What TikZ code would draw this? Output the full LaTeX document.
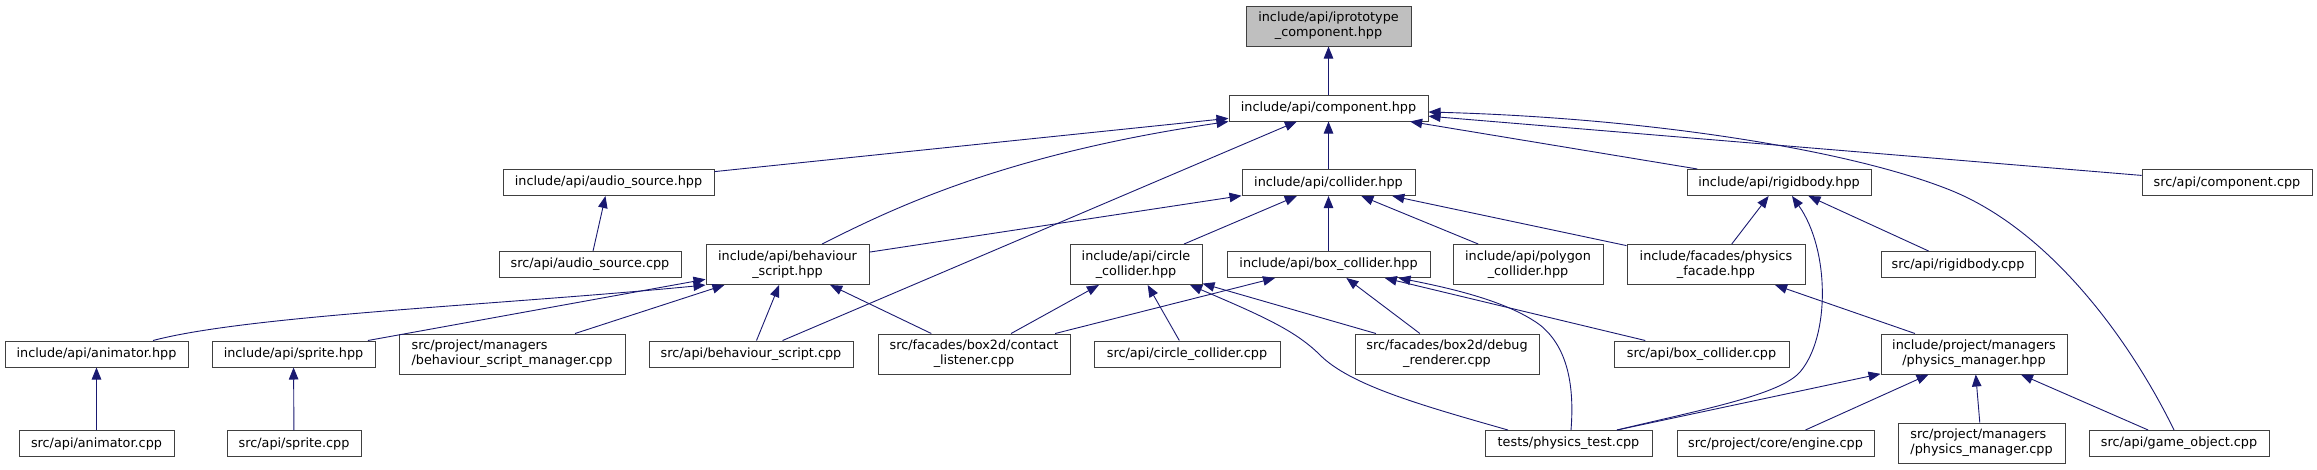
\documentclass[tikz,border=0pt]{standalone}
\usepackage{fontspec}
\setmainfont{DejaVu Sans}
\usetikzlibrary{arrows.meta}
\definecolor{edgec}{HTML}{191970}
\definecolor{boxc}{HTML}{404040}
\definecolor{rootc}{HTML}{BFBFBF}
\begin{document}
\begin{tikzpicture}[x=1pt,y=-1pt,
  font=\fontsize{12.8}{15}\selectfont,
  box/.style={draw=boxc, line width=1pt, fill=white, inner sep=0pt,
    minimum height=26pt, align=center, text=black},
  dbl/.style={minimum height=40pt},
  rootbox/.style={box, dbl, fill=rootc},
  dep/.style={draw=edgec, line width=0.9pt, -{Triangle[length=12pt,width=9.5pt]}}]
\useasboundingbox (0,0) rectangle (2317,469);

% row 0
\node[rootbox, minimum width=165pt] (root) at (1328.5,26) {include/api/iprototype\\\_component.hpp};
% row 1
\node[box, minimum width=199pt] (comp) at (1328.5,108) {include/api/component.hpp};
% row 2
\node[box, minimum width=211pt] (audh) at (608.5,182.5) {include/api/audio\_source.hpp};
\node[box, minimum width=173pt] (coll) at (1328.5,182.5) {include/api/collider.hpp};
\node[box, minimum width=184pt] (righ) at (1779,182.5) {include/api/rigidbody.hpp};
\node[box, minimum width=170pt] (compcpp) at (2227,182.5) {src/api/component.cpp};
% row 3
\node[box, minimum width=182pt] (audcpp) at (590,264.5) {src/api/audio\_source.cpp};
\node[box, dbl, minimum width=163pt] (behh) at (787.5,264.5) {include/api/behaviour\\\_script.hpp};
\node[box, dbl, minimum width=132pt] (circh) at (1136,264.5) {include/api/circle\\\_collider.hpp};
\node[box, minimum width=203pt] (boxh) at (1328.5,264.5) {include/api/box\_collider.hpp};
\node[box, dbl, minimum width=150pt] (polyh) at (1528,264.5) {include/api/polygon\\\_collider.hpp};
\node[box, dbl, minimum width=178pt] (fach) at (1716,264.5) {include/facades/physics\\\_facade.hpp};
\node[box, minimum width=154pt] (rigcpp) at (1958,264.5) {src/api/rigidbody.cpp};
% row 4
\node[box, minimum width=183pt] (animh) at (96.5,354) {include/api/animator.hpp};
\node[box, minimum width=163pt] (sprh) at (293.5,354) {include/api/sprite.hpp};
\node[box, dbl, minimum width=226pt, align=left] (bsmcpp) at (512,354) {src/project/managers\\/behaviour\_script\_manager.cpp};
\node[box, minimum width=204pt] (behcpp) at (751,354) {src/api/behaviour\_script.cpp};
\node[box, dbl, minimum width=192pt] (contcpp) at (974,354) {src/facades/box2d/contact\\\_listener.cpp};
\node[box, minimum width=186pt] (circcpp) at (1187,354) {src/api/circle\_collider.cpp};
\node[box, dbl, minimum width=184pt] (dbgcpp) at (1447,354) {src/facades/box2d/debug\\\_renderer.cpp};
\node[box, minimum width=175pt] (boxcpp) at (1701.5,354) {src/api/box\_collider.cpp};
\node[box, dbl, minimum width=186pt] (pmh) at (1974,354) {include/project/managers\\/physics\_manager.hpp};
% row 5
\node[box, minimum width=155pt] (animcpp) at (96.5,443.5) {src/api/animator.cpp};
\node[box, minimum width=134pt] (sprcpp) at (294,443.5) {src/api/sprite.cpp};
\node[box, minimum width=167pt] (testcpp) at (1568.5,443.5) {tests/physics\_test.cpp};
\node[box, minimum width=197pt] (engcpp) at (1775.5,443.5) {src/project/core/engine.cpp};
\node[box, dbl, minimum width=167pt, align=left] (pmcpp) at (1981.5,443) {src/project/managers\\/physics\_manager.cpp};
\node[box, minimum width=180pt] (gocpp) at (2179,443.5) {src/api/game\_object.cpp};

% edges to root
\draw[dep] (comp) -- (root);
% edges to component
\draw[dep] (audh) -- (comp);
\draw[dep] ([xshift=34.5pt]behh.north) .. controls (890,210) and (1000,155) .. (comp.south west);
\draw[dep] (behcpp) -- (comp);
\draw[dep] (coll) -- (comp);
\draw[dep] (righ) -- (comp);
\draw[dep] (compcpp) -- (comp);
\draw[dep] ([xshift=-5pt]gocpp.north) .. controls (2130,340) and (2050,230) .. (1950,190)
  .. controls (1850,150) and (1650,118) .. ([yshift=-4pt]comp.east);
% audio source
\draw[dep] (audcpp) -- (audh);
% collider
\draw[dep] (behh) -- (coll);
\draw[dep] (circh) -- (coll);
\draw[dep] (boxh) -- (coll);
\draw[dep] (polyh) -- (coll);
\draw[dep] (fach) -- (coll);
% rigidbody
\draw[dep] (fach) -- (righ);
\draw[dep] ([xshift=48.5pt]testcpp.north) .. controls (1700,410) and (1780,395) .. (1800,372)
  .. controls (1830,337) and (1830,250) .. ([xshift=13pt]righ.south);
\draw[dep] (rigcpp) -- (righ);
% behaviour script
\draw[dep] ([xshift=56.5pt]animh.north) .. controls (250,315) and (500,305) .. (behh.south west);
\draw[dep] (sprh) -- (behh);
\draw[dep] (bsmcpp) -- (behh);
\draw[dep] (behcpp) -- (behh);
\draw[dep] (contcpp) -- (behh);
% animator, sprite
\draw[dep] (animcpp) -- (animh);
\draw[dep] (sprcpp) -- (sprh);
% circle collider
\draw[dep] (contcpp) -- (circh);
\draw[dep] (circcpp) -- (circh);
\draw[dep] (dbgcpp) -- (circh);
\draw[dep] ([xshift=-60.5pt]testcpp.north) .. controls (1420,405) and (1350,385) .. (1320,355)
  .. controls (1295,330) and (1260,315) .. ([xshift=54pt]circh.south);
% box collider
\draw[dep] (contcpp) -- (boxh);
\draw[dep] (dbgcpp) -- (boxh);
\draw[dep] (boxcpp) -- (boxh);
\draw[dep] ([xshift=2.5pt]testcpp.north) .. controls (1575,380) and (1565,345) .. (1540,325)
  .. controls (1510,303) and (1460,290) .. ([xshift=70pt]boxh.south);
% physics facade
\draw[dep] (pmh) -- (fach);
% physics manager
\draw[dep] ([xshift=48.5pt]testcpp.north) -- (pmh);
\draw[dep] (engcpp) -- (pmh);
\draw[dep] (pmcpp) -- (pmh);
\draw[dep] (gocpp) -- (pmh);
\end{tikzpicture}
\end{document}
